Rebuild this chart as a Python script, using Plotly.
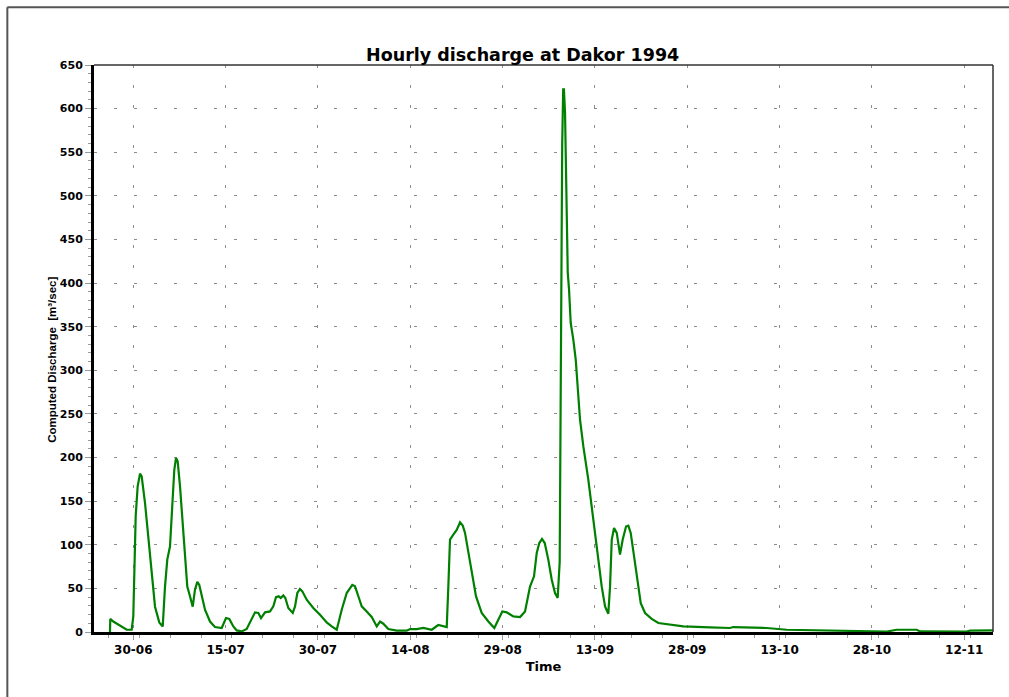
import pandas as pd
import plotly.graph_objects as go

# days after 30-06-1994 and computed discharge (m3/sec)
day = [-3.79, -3.74, -3.25, -2.16, -1.07, -0.26, 0.0, 0.39, 0.71, 1.09, 1.36, 1.90, 2.44,
       2.99, 3.53, 4.22, 4.78, 5.15, 5.52, 5.96, 6.34, 6.66, 6.94, 7.21, 7.59, 8.03,
       8.40, 8.77, 9.21, 9.65, 10.02, 10.40, 10.72, 11.11, 11.65, 12.46, 13.27, 14.36,
       15.06, 15.60, 16.25, 16.80, 17.61, 18.42, 19.24, 19.77, 20.31, 20.75, 21.40,
       22.21, 22.75, 23.18, 23.62, 23.95, 24.37, 24.70, 25.18, 25.90, 26.27, 26.65,
       27.08, 27.46, 28.17, 29.24, 30.33, 31.42, 32.23, 33.05, 33.86, 34.67, 35.58,
       36.02, 36.56, 37.11, 37.92, 38.73, 39.55, 40.08, 40.62, 41.43, 42.80, 44.42,
       44.96, 46.04, 47.12, 48.48, 49.55, 50.37, 50.92, 51.18, 51.45, 51.99, 52.54,
       53.08, 53.52, 53.89, 54.43, 54.98, 55.68, 56.60, 57.68, 58.65, 59.30, 59.95,
       60.67, 61.74, 62.83, 63.64, 64.45, 65.10, 65.54, 65.96, 66.40, 66.84, 67.42,
       67.98, 68.51, 68.94, 69.27, 69.43, 69.68, 69.84, 69.96, 70.14, 70.30, 70.41,
       70.58, 70.79, 71.06, 71.49, 71.88, 72.57, 73.11, 73.92, 74.48, 75.01, 75.55,
       76.10, 76.64, 77.17, 77.45, 77.73, 78.10, 78.54, 79.07, 79.51, 80.05, 80.42,
       80.81, 81.35, 81.89, 82.44, 83.14, 84.22, 85.30, 87.20, 89.36, 93.70, 96.94,
       97.48, 102.91, 106.16, 112.66, 114.82, 120.23, 122.41, 124.03, 127.28, 127.82,
       134.32, 135.40, 135.94, 139.67]
discharge = [0, 15, 12, 7, 2.6, 2.6, 18, 133, 167, 181.6, 178.5, 148, 110,
             67.7, 29, 11, 6.4, 52, 83, 98, 148, 186, 199.6, 195.7, 167, 121,
             79, 52, 41, 29, 48.5, 57.4, 54, 41, 25.6, 12, 5.7, 4.6,
             16, 15, 6.4, 1.8, 0.7, 3.4, 16, 22.5, 21.8, 16, 22.5,
             23.6, 29.4, 40, 40.9, 39, 42, 39, 27.5, 21.8, 29.4, 44.7,
             49.3, 46.6, 37, 27.5, 19.8, 11, 6.4, 2.6, 25.6, 44.7, 54,
             52.3, 41, 29.4, 23.6, 17.2, 6.4, 12, 9.5, 3.4, 1.5, 1.5,
             3.4, 3.4, 4.6, 2.6, 8, 6.4, 5.7, 52, 106, 111.6, 117,
             125.7, 122, 113.6, 90.6, 67.7, 40.8, 21.8, 12, 4.6, 14, 23.6,
             22.5, 17.9, 17.2, 23.6, 52, 63.8, 90.6, 102, 106.7, 102, 83,
             60, 44.7, 39, 80, 312, 560, 622, 622, 595, 503.6, 442,
             412, 392.7, 354.5, 335, 312, 243.6, 213, 174.7, 144, 109.7, 79,
             52, 29.4, 21, 52, 106, 119.3, 113.6, 88.7, 106, 121, 122,
             113.6, 86.7, 56, 33, 21.8, 15, 10.3, 8.4, 6.4, 5.3, 4.6,
             5.7, 4.6, 2.6, 1.8, 0.7, 0.7, 0.5, 2.6, 2.6, 0.7,
             0.7, 0.5, 1.5, 1.8]

time = pd.Timestamp("1994-06-30") + pd.to_timedelta(day, unit="D")

FONT = "DejaVu Sans"
DAY_MS = 86400000

fig = go.Figure()
fig.add_trace(go.Scatter(x=time, y=discharge, mode="lines",
                         line=dict(color="#008000", width=2.2),
                         showlegend=False))

fig.update_layout(
    width=1009, height=697,
    margin=dict(l=94, r=16, t=65, b=65),
    paper_bgcolor="white", plot_bgcolor="white",
    title=dict(text="Hourly discharge at Dakor 1994", x=0.518, xanchor="center",
               y=0.921, yanchor="middle",
               font=dict(family=FONT, size=17.5, color="black", weight="bold")),
    xaxis=dict(
        type="date",
        range=["1994-06-23 14:45", "1994-11-16 16:00"],
        tick0="1994-06-30", dtick=15 * DAY_MS, tickformat="%d-%m",
        ticks="outside", ticklen=5, tickcolor="#999999",
        tickfont=dict(family=FONT, size=12, color="black", weight="bold"),
        minor=dict(dtick=5 * DAY_MS, ticks="outside", ticklen=3, tickcolor="#999999",
                   showgrid=False),
        showgrid=True, gridcolor="#8c8c8c", griddash="3px,17px", gridwidth=1,
        showline=True, linecolor="black", linewidth=3,
        zeroline=False,
        title=dict(text="Time", standoff=6,
                   font=dict(family=FONT, size=13, color="black", weight="bold")),
    ),
    yaxis=dict(
        range=[0, 650], dtick=50, tick0=0,
        ticks="outside", ticklen=6, tickcolor="#999999",
        tickfont=dict(family=FONT, size=11, color="black", weight="bold"),
        minor=dict(dtick=10, ticks="outside", ticklen=3, tickcolor="#999999",
                   showgrid=False),
        showgrid=True, gridcolor="#8c8c8c", griddash="3px,17px", gridwidth=1,
        showline=True, linecolor="black", linewidth=3,
        zeroline=False,
    ),
    # y axis title sits a little below the middle of the axis in the original
    annotations=[
        dict(text="Computed Discharge\u00a0\u00a0[m\u00b3/sec]", textangle=-90,
             xref="paper", yref="paper", x=-0.0467, y=0.48,
             xanchor="center", yanchor="middle", showarrow=False,
             font=dict(family="Liberation Sans", size=11.5, color="black", weight="bold")),
    ],
    shapes=[
        # top and right border of the plot area
        dict(type="line", xref="paper", yref="paper", x0=0, x1=1, y0=1, y1=1,
             line=dict(color="#333333", width=1.5)),
        dict(type="line", xref="paper", yref="paper", x0=1, x1=1, y0=0, y1=1,
             line=dict(color="#333333", width=1.5)),
        # outer frame of the picture
        dict(type="line", xref="paper", yref="paper", x0=-0.0964, x1=1.1, y0=1.1018, y1=1.1018,
             line=dict(color="#555555", width=2)),
        dict(type="line", xref="paper", yref="paper", x0=-0.0964, x1=-0.0964, y0=-0.2, y1=1.1018,
             line=dict(color="#555555", width=2)),
    ],
)

# the page body has a default 8px margin; drop it so the figure fills the window
fig.write_html("out.html", config={"displayModeBar": False},
               post_script="document.body.style.margin='0';")
